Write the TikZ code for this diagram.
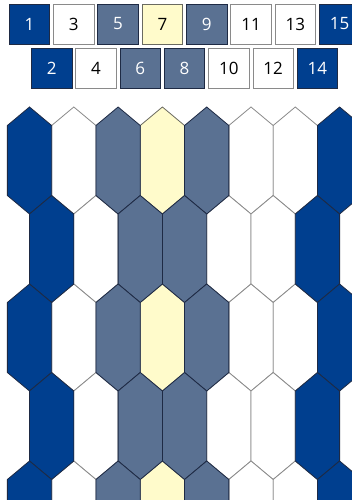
\documentclass[tikz,border=0pt]{standalone}
\usepackage{fontspec}
\setmainfont{Open Sans}
\definecolor{cblue}{HTML}{003F8F}
\definecolor{cslate}{HTML}{5A7192}
\definecolor{cyel}{HTML}{FFFBCB}
\definecolor{edgedark}{HTML}{1E2A44}
\definecolor{edgegray}{HTML}{8A8A8A}
\definecolor{edgeyel}{HTML}{6A6A60}
\tikzset{
  keybox/.style={draw, line width=0.8pt, minimum width=40.5pt, minimum height=40pt,
    inner sep=0pt, font=\fontsize{17}{20}\selectfont},
  kb/.style={keybox, fill=cblue, draw=edgedark, text=white},
  ks/.style={keybox, fill=cslate, draw=edgedark, text=white},
  ky/.style={keybox, fill=cyel, draw=edgeyel, text=black},
  kw/.style={keybox, fill=white, draw=edgegray, text=black},
  hexline/.style={line width=0.8pt, line join=miter}
}
\def\hexfills{{"white","white","cblue","cblue","white","white","cslate","cslate","cyel","cslate","cslate","white","white","white","white","cblue","cblue","white","white","white","white"}}
\def\hexranks{{9,9,2,2,0,0,2,2,1,2,2,0,0,0,0,2,2,9,9,9,9}}
\def\hexedges{{"edgegray","edgeyel","edgedark"}}
\begin{document}
\begin{tikzpicture}[x=1pt,y=-1pt]
\useasboundingbox (0,0) rectangle (352,500);
\clip (0,0) rectangle (352,500);
\fill[white] (0,0) rectangle (352,500);
% honeycomb
\foreach \pass in {0,1,2}{
  \foreach \r in {0,...,4}{
    \foreach \k in {0,...,9}{
      \pgfmathtruncatemacro\jj{2*\k-1+mod(\r,2)}
      \pgfmathtruncatemacro\rk{\hexranks[\jj+1]}
      \ifnum\rk=\pass
        \pgfmathsetmacro\fc{\hexfills[\jj+1]}
        \pgfmathsetmacro\ec{\hexedges[\rk]}
        \pgfmathsetmacro\cx{29.5+22.15*(\jj-1)}
        \pgfmathsetmacro\ty{107+88.5*\r}
        \filldraw[hexline, fill=\fc, draw=\ec] (\cx,\ty) -- ++(22.15,18.5) -- ++(0,70)
          -- ++(-22.15,18.5) -- ++(-22.15,-18.5) -- ++(0,-70) -- cycle;
      \fi
    }
  }
}
% legend
\node[kb] (k1)  at (29.5,24) {1};
\node[kw] (k3)  at (73.8,24) {3};
\node[ks] (k5)  at (118.1,24) {5};
\node[ky] (k7)  at (162.4,24) {7};
\node[ks] (k9)  at (206.7,24) {9};
\node[kw] (k11) at (251.0,24) {11};
\node[kw] (k13) at (295.3,24) {13};
\node[kb] (k15) at (339.6,24) {15};
\node[kb] (k2)  at (51.65,68) {2};
\node[kw] (k4)  at (95.95,68) {4};
\node[ks] (k6)  at (140.25,68) {6};
\node[ks] (k8)  at (184.55,68) {8};
\node[kw] (k10) at (228.85,68) {10};
\node[kw] (k12) at (273.15,68) {12};
\node[kb] (k14) at (317.45,68) {14};
\end{tikzpicture}
\end{document}
